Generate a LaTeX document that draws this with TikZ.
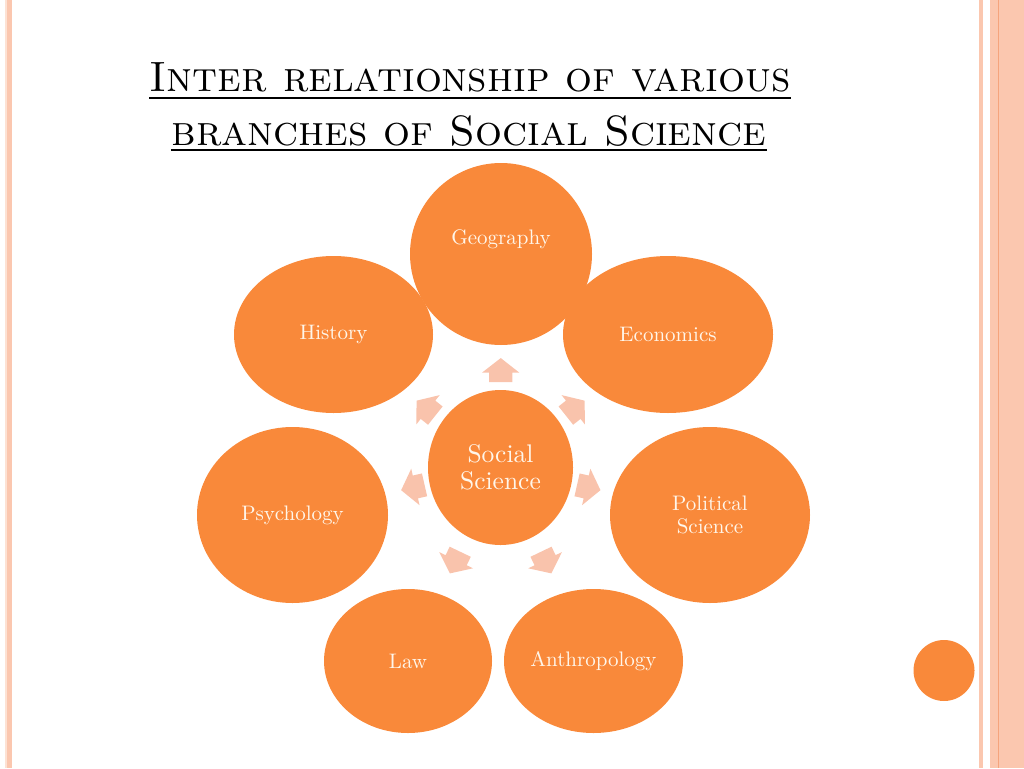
\documentclass[tikz,border=0pt]{standalone}
\usepackage{fontspec}
\setmainfont{lmroman10-regular.otf}[SmallCapsFont=lmromancaps10-regular.otf]
\usetikzlibrary{shapes.geometric,shapes.arrows}
\definecolor{orng}{HTML}{F9893A}
\definecolor{arw}{HTML}{F9C3AC}
\definecolor{txt}{HTML}{FFF6EA}
\definecolor{strip}{HTML}{FBC7AF}
\definecolor{stripl}{HTML}{FDE2D4}
\definecolor{stripd}{HTML}{F5A47D}
\begin{document}
\begin{tikzpicture}[x=1pt,y=-1pt,
  bub/.style={ellipse, fill=orng, text=txt, inner sep=0pt, align=center,
    font=\fontsize{21}{22.5}\selectfont},
  titletext/.style={inner sep=0pt, font=\fontsize{42.4}{48}\selectfont},
  uline/.style={line width=1.8pt, black},
  barrow/.style={shape=single arrow, fill=arw, draw=none, inner sep=0pt,
    text height=11.5pt, text depth=11.5pt, text width=0pt,
    minimum height=24pt, single arrow head extend=7pt,
    single arrow tip angle=104, sloped, allow upside down}]
\useasboundingbox (0,0) rectangle (1024,768);
% side stripes
\fill[stripl] (5,0) rectangle (7.3,768);
\fill[strip] (7.3,0) rectangle (12,768);
\fill[strip] (979,0) rectangle (983,768);
\fill[strip] (990,0) rectangle (1024,768);
\fill[stripd] (998,0) rectangle (999.2,768);
% title
\node[titletext, anchor=base] (t1) at (470,91) {\textsc{Inter relationship of various}};
\node[titletext, anchor=base] (t2) at (469,145) {\textsc{branches of Social Science}};
\draw[uline] ([yshift=-7pt]t1.base west) -- ([yshift=-7pt]t1.base east);
\draw[uline] ([yshift=-5pt]t2.base west) -- ([yshift=-5pt]t2.base east);
% bubbles
\node[bub, minimum width=182pt, minimum height=182pt, text depth=34pt] (geo) at (501,254) {Geography};
\node[bub, minimum width=199pt, minimum height=157pt] (his) at (333.5,334.5) {History};
\node[bub, minimum width=210pt, minimum height=157pt] (eco) at (668,334.5) {Economics};
\node[bub, minimum width=191pt, minimum height=176pt] (psy) at (292.5,515) {Psychology};
\node[bub, minimum width=200pt, minimum height=176pt] (pol) at (710,515) {Political\\Science};
\node[bub, minimum width=168pt, minimum height=144pt] (law) at (408,661) {Law};
\node[bub, minimum width=179pt, minimum height=144pt] (ant) at (593.5,661) {Anthropology};
\node[bub, minimum width=145pt, minimum height=155pt, font=\fontsize{25.5}{26.5}\selectfont] (soc) at (500.5,467.5) {Social\\Science};
% block arrows
\path (soc.center) -- (geo.center) node[barrow, pos=0.435] (a1) {};
\path (soc.center) -- (eco.center) node[barrow, pos=0.425] (a2) {};
\path (soc.center) -- (pol.center) node[barrow, pos=0.40] (a3) {};
\path (soc.center) -- (ant.center) node[barrow, pos=0.47] (a4) {};
\path (soc.center) -- (law.center) node[barrow, pos=0.47] (a5) {};
\path (soc.center) -- (psy.center) node[barrow, pos=0.40] (a6) {};
\path (soc.center) -- (his.center) node[barrow, pos=0.425] (a7) {};
% decorative dot
\node[circle, fill=orng, inner sep=0pt, minimum size=61pt] (dot) at (944,670.5) {};
\end{tikzpicture}
\end{document}
